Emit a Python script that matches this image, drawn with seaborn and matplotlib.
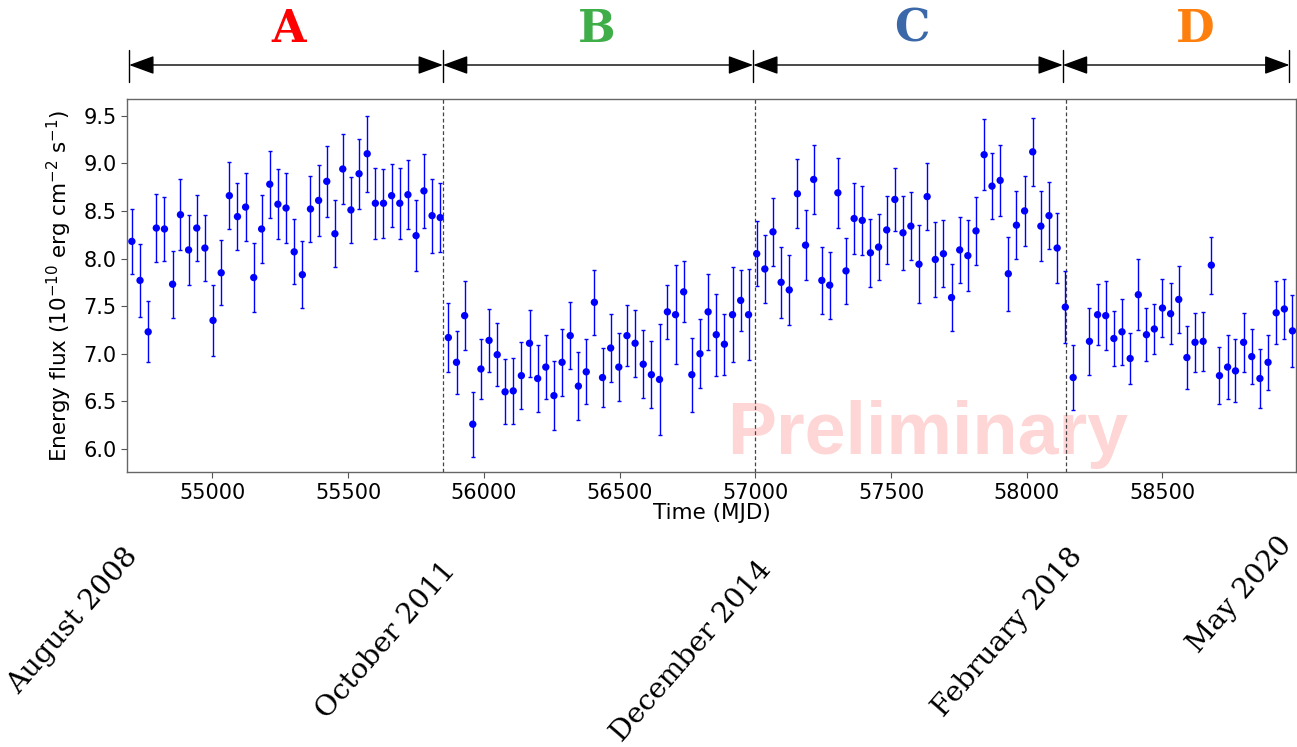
import numpy as np
import pandas as pd
import matplotlib
matplotlib.use("Agg")
import matplotlib.pyplot as plt
import matplotlib.transforms as mtrans
import seaborn as sns

# ---------------- data ----------------
A_mjd = [54703, 54733, 54763, 54793, 54823, 54853, 54882, 54912, 54942, 54972,
         55002, 55032, 55062, 55092, 55122, 55152, 55181, 55211, 55241, 55271,
         55301, 55331, 55361, 55391, 55421, 55451, 55480, 55510, 55540, 55570,
         55600, 55630, 55660, 55690, 55720, 55750, 55779, 55809, 55839]
A_flux = [8.18, 7.77, 7.23, 8.32, 8.31, 7.73, 8.46, 8.09, 8.32, 8.11,
          7.35, 7.85, 8.66, 8.44, 8.54, 7.80, 8.31, 8.78, 8.57, 8.53,
          8.07, 7.83, 8.52, 8.61, 8.81, 8.26, 8.94, 8.51, 8.89, 9.10,
          8.58, 8.58, 8.66, 8.58, 8.67, 8.24, 8.71, 8.45, 8.43]
A_err = [0.34, 0.38, 0.32, 0.36, 0.34, 0.35, 0.37, 0.37, 0.35, 0.35,
         0.37, 0.34, 0.35, 0.35, 0.36, 0.36, 0.36, 0.35, 0.37, 0.37,
         0.34, 0.35, 0.35, 0.37, 0.37, 0.35, 0.37, 0.35, 0.37, 0.40,
         0.37, 0.36, 0.33, 0.37, 0.36, 0.37, 0.39, 0.39, 0.36]

B_mjd = [55869, 55899, 55929, 55959, 55989, 56019, 56049, 56078, 56108, 56138,
         56168, 56198, 56228, 56258, 56288, 56318, 56348, 56377, 56407, 56437,
         56467, 56497, 56527, 56557, 56587, 56617, 56647, 56676, 56706, 56736,
         56766, 56796, 56826, 56856, 56886, 56916, 56946, 56975]
B_flux = [7.17, 6.91, 7.40, 6.26, 6.84, 7.14, 6.99, 6.60, 6.61, 6.77,
          7.11, 6.74, 6.86, 6.56, 6.91, 7.19, 6.66, 6.81, 7.54, 6.75,
          7.06, 6.86, 7.19, 7.11, 6.89, 6.78, 6.73, 7.44, 7.41, 7.65,
          6.78, 7.00, 7.44, 7.20, 7.10, 7.41, 7.56, 7.41]
B_err = [0.36, 0.33, 0.36, 0.34, 0.32, 0.33, 0.33, 0.34, 0.35, 0.35,
         0.35, 0.35, 0.34, 0.36, 0.35, 0.35, 0.36, 0.34, 0.34, 0.31,
         0.36, 0.36, 0.32, 0.35, 0.36, 0.35, 0.58, 0.28, 0.52, 0.32,
         0.39, 0.36, 0.40, 0.43, 0.32, 0.50, 0.32, 0.48]

C_mjd = [57005, 57035, 57065, 57095, 57125, 57155, 57185, 57215, 57245, 57274,
         57304, 57334, 57364, 57394, 57424, 57454, 57484, 57514, 57544, 57573,
         57603, 57633, 57663, 57693, 57723, 57753, 57783, 57813, 57843, 57872,
         57902, 57932, 57962, 57992, 58022, 58052, 58082, 58112]
C_flux = [8.05, 7.89, 8.28, 7.75, 7.67, 8.68, 8.14, 8.83, 7.77, 7.72,
          8.69, 7.87, 8.42, 8.40, 8.06, 8.12, 8.30, 8.62, 8.27, 8.34,
          7.94, 8.65, 7.99, 8.05, 7.59, 8.09, 8.03, 8.29, 9.09, 8.76,
          8.82, 7.84, 8.35, 8.50, 9.12, 8.34, 8.45, 8.11]
C_err = [0.34, 0.36, 0.36, 0.37, 0.37, 0.36, 0.37, 0.36, 0.35, 0.35,
         0.37, 0.35, 0.37, 0.36, 0.36, 0.35, 0.36, 0.33, 0.39, 0.36,
         0.41, 0.35, 0.39, 0.35, 0.35, 0.35, 0.37, 0.36, 0.37, 0.35,
         0.37, 0.39, 0.36, 0.37, 0.36, 0.37, 0.35, 0.37]

D_mjd = [58142, 58171, 58231, 58261, 58291, 58321, 58351, 58381, 58411, 58441,
         58470, 58500, 58530, 58560, 58590, 58620, 58650, 58680, 58710, 58740,
         58769, 58799, 58829, 58859, 58889, 58919, 58949, 58979]
D_flux = [7.49, 6.75, 7.13, 7.41, 7.40, 7.16, 7.23, 6.95, 7.62, 7.20,
          7.26, 7.48, 7.42, 7.57, 6.96, 7.12, 7.13, 7.93, 6.77, 6.86,
          6.82, 7.12, 6.97, 6.74, 6.91, 7.43, 7.47, 7.24]
D_err = [0.38, 0.34, 0.35, 0.32, 0.36, 0.29, 0.35, 0.27, 0.37, 0.28,
         0.26, 0.30, 0.32, 0.35, 0.33, 0.31, 0.31, 0.30, 0.30, 0.34,
         0.33, 0.31, 0.29, 0.31, 0.29, 0.33, 0.32, 0.38]

period_names = ["A", "B", "C", "D"]
period_colors = ["#ff0000", "#3fae49", "#3a68a8", "#ff7f0e"]
period_letter_mjd = [55279, 56417, 57577, 58620]
period_edges = [54693, 55849, 56992, 58133, 58968]
divider_mjd = [55851, 56999, 58145]
date_labels = ["August 2008", "October 2011", "December 2014", "February 2018", "May 2020"]
yticks = [6.0, 6.5, 7.0, 7.5, 8.0, 8.5, 9.0, 9.5]
xticks = [55000, 55500, 56000, 56500, 57000, 57500, 58000, 58500]

# ---------------- table ----------------
df = pd.concat([
    pd.DataFrame({"mjd": A_mjd, "flux": A_flux, "err": A_err, "period": "A"}),
    pd.DataFrame({"mjd": B_mjd, "flux": B_flux, "err": B_err, "period": "B"}),
    pd.DataFrame({"mjd": C_mjd, "flux": C_flux, "err": C_err, "period": "C"}),
    pd.DataFrame({"mjd": D_mjd, "flux": D_flux, "err": D_err, "period": "D"}),
], ignore_index=True)

sns.set_style("ticks")
plt.rcParams["font.family"] = ["DejaVu Sans"]
plt.rcParams["text.color"] = "black"
plt.rcParams["axes.labelcolor"] = "black"
plt.rcParams["xtick.color"] = "black"
plt.rcParams["ytick.color"] = "black"

W, H = 1297, 747
fig = plt.figure(figsize=(W / 100, H / 100), dpi=100)
ax = fig.add_axes([127 / W, 1 - 472.3 / H, (1296 - 127) / W, (472.3 - 99) / H])

ax.errorbar(df["mjd"], df["flux"], yerr=df["err"], fmt="none", ecolor="blue",
            elinewidth=1.0, capsize=1.6, capthick=1.0, zorder=2)
sns.scatterplot(data=df, x="mjd", y="flux", color="blue", s=28, linewidth=0,
                edgecolor="none", ax=ax, zorder=3, legend=False)

for xd in divider_mjd:
    ax.axvline(xd, color="#444444", ls=(0, (3, 2)), lw=0.9, zorder=1)

ax.set_xlim(54685, 58992)
ax.set_ylim(5.755, 9.675)
ax.set_xticks(xticks)
ax.set_yticks(yticks)
ax.set_yticklabels([f"{v:.1f}" for v in yticks])
ax.tick_params(axis="both", labelsize=15, length=4, width=0.8, color="#555555",
               labelcolor="black", direction="out")
for sp in ax.spines.values():
    sp.set_visible(True)
    sp.set_color("#666666")
    sp.set_linewidth(1.0)
ax.set_xlabel("Time (MJD)", fontsize=15.5, labelpad=0, color="black")
ax.set_ylabel(r"Energy flux (10$^{-10}$ erg cm$^{-2}$ s$^{-1}$)", fontsize=15.5,
              labelpad=7, color="black")

# watermark
ax.text(0.685, 0.05, "Preliminary", transform=ax.transAxes, ha="center", va="baseline",
        fontsize=53, fontweight="bold", family="Liberation Sans", color="red",
        alpha=0.16, zorder=0.5)

# ---------------- period arrows above the axes ----------------
bt = mtrans.blended_transform_factory(ax.transData, fig.transFigure)
y_arrow = 1 - 65 / H
for i in range(4):
    ax.annotate("", xy=(period_edges[i + 1], y_arrow), xytext=(period_edges[i], y_arrow),
                xycoords=bt, textcoords=bt,
                arrowprops=dict(arrowstyle="<|-|>,head_length=0.6,head_width=0.22",
                                color="black", lw=1.0, mutation_scale=26,
                                shrinkA=0, shrinkB=0),
                annotation_clip=False)
    ax.text(period_letter_mjd[i], 1 - 42 / H, period_names[i], transform=bt,
            ha="center", va="baseline", fontsize=32, fontweight="bold",
            family="DejaVu Serif", color=period_colors[i], clip_on=False)

for xe in period_edges:
    ax.plot([xe, xe], [1 - 50 / H, 1 - 82 / H], color="black", lw=1.0,
            transform=bt, clip_on=False)

# ---------------- date labels below ----------------
date_pos = [(143, 543), (461, 557), (777, 556), (1088, 543), (1297, 532)]
for lab, (px, py) in zip(date_labels, date_pos):
    fig.text(px / W, 1 - py / H, lab, rotation=49, ha="right", va="top",
             fontsize=20.5, family="DejaVu Serif", color="black")

fig.savefig("out.png", dpi=100)
